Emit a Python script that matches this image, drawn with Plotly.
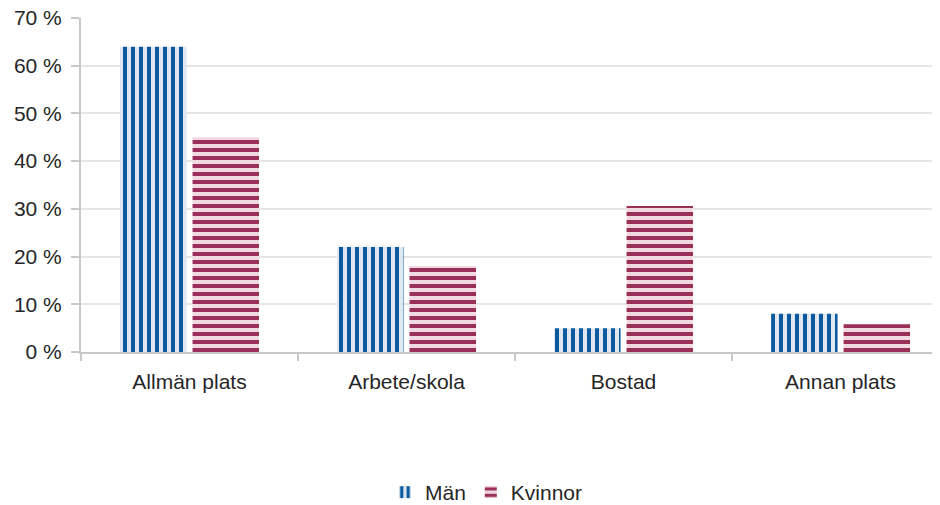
import plotly.graph_objects as go

categories = ["Allmän plats", "Arbete/skola", "Bostad", "Annan plats"]
man = [64, 22, 5, 8]
kvinnor = [45, 18, 30.6, 5.8]
tick_vals = [0, 10, 20, 30, 40, 50, 60, 70]
tick_text = ["0 %", "10 %", "20 %", "30 %", "40 %", "50 %", "60 %", "70 %"]

FONT = "Liberation Sans, Arial, sans-serif"

fig = go.Figure()
fig.add_trace(go.Bar(
    x=categories, y=man, name="Män",
    marker=dict(color="#dfe8f2", line=dict(width=0),
                pattern=dict(shape="|", fgcolor="#0b5a9e", bgcolor="#dfe8f2",
                             size=8, solidity=0.5, fillmode="replace")),
))
fig.add_trace(go.Bar(
    x=categories, y=kvinnor, name="Kvinnor",
    marker=dict(color="#f2d8e1", line=dict(width=0),
                pattern=dict(shape="-", fgcolor="#9a2f58", bgcolor="#f2d8e1",
                             size=8, solidity=0.5, fillmode="replace")),
))

fig.update_layout(
    width=940, height=505,
    margin=dict(l=73, r=0, t=10, b=161),
    paper_bgcolor="white", plot_bgcolor="white",
    barmode="group", bargap=0.332, bargroupgap=0.083,
    font=dict(family=FONT, size=21, color="#262626"),
    showlegend=True,
    legend=dict(orientation="h", xref="container", yref="container",
                x=0.509, y=0.0, xanchor="center", yanchor="bottom",
                font=dict(size=21), itemwidth=30, tracegroupgap=0),
    xaxis=dict(range=[-0.5, 3.495], showline=True, linecolor="#c8c8c8", linewidth=2,
               ticks="outside", tickson="boundaries", ticklen=7, tickcolor="#c8c8c8",
               tickwidth=2, showgrid=False, ticklabelstandoff=10, automargin=False),
    yaxis=dict(range=[0, 70], tickvals=tick_vals, ticktext=tick_text,
               showline=True, linecolor="#c8c8c8", linewidth=2,
               ticks="outside", ticklen=8, tickcolor="#c8c8c8", tickwidth=2,
               showgrid=True, gridcolor="#e6e6e6", gridwidth=1.5,
               zeroline=False, ticklabelstandoff=5, automargin=False,
               ticklabeloverflow="allow"),
)

fig.write_html("out.html")
